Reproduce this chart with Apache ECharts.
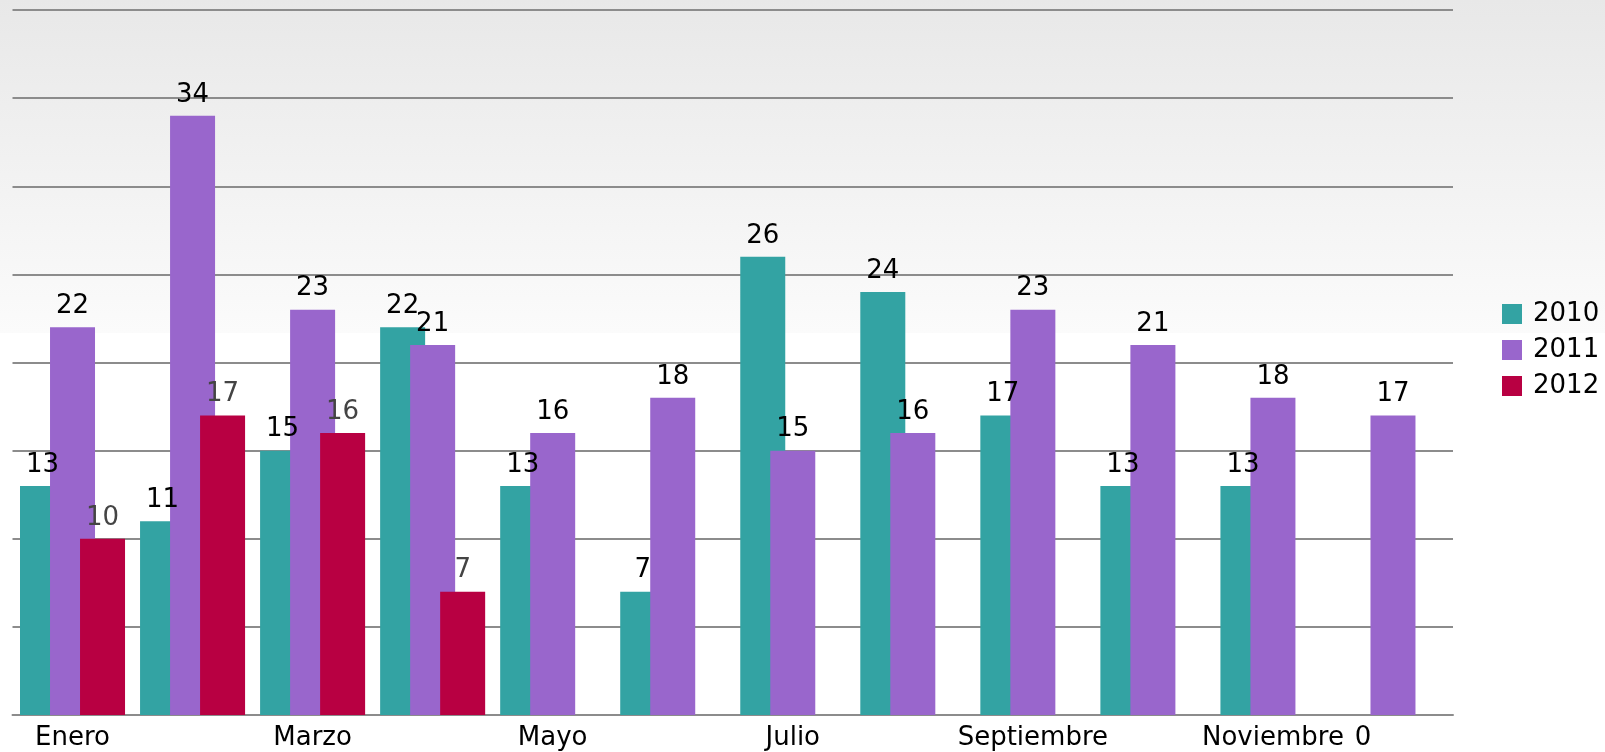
<!DOCTYPE html>
<html>
<head>
<meta charset="utf-8">
<script src="https://cdn.jsdelivr.net/npm/echarts@6/dist/echarts.min.js"></script>
<style>
    html, body { margin: 0; padding: 0; }
    #chart { width: 1605px; height: 752px; }
</style>
</head>
<body>
<div id="chart"></div>
<script>
var months = ['Enero', 'Febrero', 'Marzo', 'Abril', 'Mayo', 'Junio', 'Julio',
    'Agosto', 'Septiembre', 'Octubre', 'Noviembre', 'Diciembre'];
var years = ['2010', '2011', '2012'];
var v2010 = [13, 11, 15, 22, 13, 7, 26, 24, 17, 13, 13, 0];
var v2011 = [22, 34, 23, 21, 16, 18, 15, 16, 23, 21, 18, 17];
var v2012 = [10, 17, 16, 7, null, null, null, null, null, null, null, null];
var colors = ['#33a3a3', '#9966cc', '#b80042'];

var font = 'DejaVu Sans';

function labelFor(color) {
    return {
        show: true,
        position: 'top',
        distance: 8,
        fontFamily: font,
        fontSize: 26,
        color: color
    };
}

// the 0 of December 2010 sits under the axis
var d2010 = v2010.map(function(v) {
    if (v === 0) {
        return { value: v, label: { position: 'bottom', distance: 10 } };
    }
    return v;
});

var myChart = echarts.init(document.getElementById('chart'));

var option = {
    backgroundColor: {
        type: 'linear', x: 0, y: 0, x2: 0, y2: 1,
        colorStops: [
            { offset: 0, color: '#e8e8e8' },
            { offset: 0.443, color: '#fbfbfb' },
            { offset: 0.443, color: '#ffffff' },
            { offset: 1, color: '#ffffff' }
        ]
    },
    animation: false,
    color: colors,
    grid: { left: 12.5, right: 152, top: 10, bottom: 37 },
    legend: {
        orient: 'vertical',
        left: 1497,
        top: 296,
        itemWidth: 20,
        itemHeight: 20,
        itemGap: 10,
        icon: 'rect',
        data: years,
        textStyle: { fontFamily: font, fontSize: 26, color: '#000', padding: [0, 0, 0, 6] }
    },
    xAxis: {
        type: 'category',
        data: months,
        axisLine: { lineStyle: { color: '#8c8c8c', width: 2 } },
        axisTick: { show: false },
        axisLabel: {
            interval: 1,
            margin: 10,
            fontFamily: font,
            fontSize: 26,
            color: '#000'
        }
    },
    yAxis: {
        type: 'value',
        min: 0,
        max: 40,
        interval: 5,
        axisLabel: { show: false },
        axisLine: { show: false },
        axisTick: { show: false },
        splitLine: { lineStyle: { color: '#8c8c8c', width: 2 } }
    },
    series: [
        {
            name: years[0], type: 'bar', data: d2010,
            barWidth: 45, barGap: '-33.3%',
            label: labelFor('#000')
        },
        {
            name: years[1], type: 'bar', data: v2011,
            barWidth: 45, barGap: '-33.3%',
            label: labelFor('#000')
        },
        {
            name: years[2], type: 'bar', data: v2012,
            barWidth: 45, barGap: '-33.3%',
            label: labelFor('#444')
        }
    ]
};

myChart.setOption(option);
</script>
</body>
</html>
